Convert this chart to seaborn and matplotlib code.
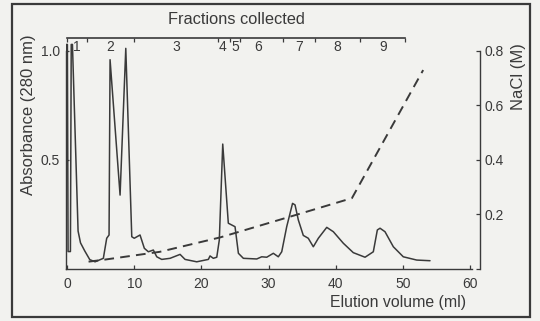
import matplotlib
matplotlib.use("Agg")
import matplotlib.pyplot as plt
import pandas as pd
import seaborn as sns
from matplotlib.patches import Rectangle
from matplotlib.transforms import blended_transform_factory

# Absorbance trace at 280 nm
elution_ml = [-0.2, -0.12, 0.05, 0.15, 0.5, 0.62, 0.8, 1.64, 2.0, 2.63, 3.38, 4.17,
              5.4, 5.9, 6.25, 6.4, 7.89, 8.74, 9.63, 10.0, 10.86, 11.5, 12.1, 12.84,
              13.35, 14.09, 15.33, 16.82, 17.56, 19.3, 21.03, 21.28, 21.77, 22.28,
              22.66, 23.17, 24.0, 24.5, 25.0, 25.5, 26.24, 28.23, 28.97, 29.72, 30.7,
              31.44, 31.95, 32.69, 33.56, 33.93, 34.42, 35.16, 35.9, 36.65, 37.4,
              38.65, 39.63, 41.12, 42.6, 44.35, 45.58, 46.18, 46.58, 47.32, 48.56,
              50.04, 52.04, 54.02]
absorbance = [0.02, 1.03, 1.03, 0.08, 0.08, 1.03, 1.03, 0.174, 0.12, 0.083, 0.043, 0.033,
              0.049, 0.141, 0.156, 0.96, 0.339, 1.012, 0.148, 0.141, 0.156, 0.095, 0.079,
              0.087, 0.056, 0.044, 0.049, 0.067, 0.044, 0.033, 0.044, 0.060, 0.049, 0.054,
              0.133, 0.573, 0.21, 0.202, 0.194, 0.072, 0.049, 0.046, 0.056, 0.054, 0.072,
              0.056, 0.079, 0.194, 0.301, 0.294, 0.225, 0.154, 0.141, 0.102, 0.141,
              0.191, 0.171, 0.118, 0.075, 0.054, 0.079, 0.179, 0.187, 0.171, 0.102,
              0.056, 0.041, 0.038]

# Salt gradient
nacl_ml = [3.2, 5.2, 13.8, 22.8, 33.6, 42.4, 53.0]
nacl_molar = [0.027, 0.033, 0.063, 0.116, 0.195, 0.26, 0.73]

# Collected fractions
fraction_bounds = [0, 3, 10, 22.4, 24.3, 25.7, 32.1, 36.9, 43.6, 50.3]
fraction_labels = ["1", "2", "3", "4", "5", "6", "7", "8", "9"]
fraction_label_pos = [1.5, 6.4, 16.3, 23.2, 25.0, 28.4, 34.5, 40.2, 47.0]

x_ticks = [0, 10, 20, 30, 40, 50, 60]
abs_ticks = [0.5, 1.0]
abs_tick_labels = ["0.5", "1.0"]
nacl_ticks = [0, 0.2, 0.4, 0.6, 0.8]
nacl_tick_labels = ["", "0.2", "0.4", "0.6", "0.8"]

ink = "#3a3a3a"
paper = "#f2f2ef"

sns.set_style("white", {"axes.facecolor": "none", "figure.facecolor": paper})
plt.rcParams["font.family"] = ["Liberation Sans", "DejaVu Sans"]
plt.rcParams["text.color"] = ink
plt.rcParams["axes.labelcolor"] = ink
plt.rcParams["xtick.color"] = ink
plt.rcParams["ytick.color"] = ink

fig = plt.figure(figsize=(5.4, 3.21), dpi=100)
fig.patch.set_facecolor(paper)
ax = fig.add_axes([0.1217, 0.162, 0.7672, 0.7206])

trace = pd.DataFrame({"ml": elution_ml, "A280": absorbance})
sns.lineplot(data=trace, x="ml", y="A280", ax=ax, color=ink, linewidth=1.1,
             sort=False, estimator=None)

xmin, xmax = -0.2, 61.46
ax.set_xlim(xmin, xmax)
ax.set_ylim(0, 1.061)

ax2 = ax.twinx()
gradient = pd.DataFrame({"ml": nacl_ml, "NaCl": nacl_molar})
sns.lineplot(data=gradient, x="ml", y="NaCl", ax=ax2, color=ink, linewidth=1.4,
             sort=False, estimator=None)
ax2.lines[0].set_dashes((5, 3.2))
ax2.set_ylim(0, 1.061 * 0.8)
ax2.set_xlim(xmin, xmax)

# Fractions axis along the top
ax3 = ax.twiny()
ax3.set_xlim(xmin, xmax)
ax3.set_xticks(fraction_bounds)
ax3.tick_params(axis="x", direction="in", length=3, width=0.9, labeltop=False,
                top=True, bottom=False, color=ink)
for side in ["left", "right", "bottom"]:
    ax3.spines[side].set_visible(False)
ax3.spines["top"].set_bounds(fraction_bounds[0], fraction_bounds[-1])
ax3.spines["top"].set_color(ink)
ax3.spines["top"].set_linewidth(1.2)
ax3.set_yticks([])
trans = blended_transform_factory(ax3.transData, ax3.transAxes)
for pos, lab in zip(fraction_label_pos, fraction_labels):
    ax3.text(pos, 0.958, lab, transform=trans, ha="center", va="center",
             fontsize=10, color=ink)
ax3.text(0.411, 1.0765, "Fractions collected", transform=ax3.transAxes,
         ha="center", va="center", fontsize=11.8, color=ink)

# Main axes styling
ax.spines["top"].set_visible(False)
ax.spines["right"].set_visible(False)
ax.spines["left"].set_bounds(0, 1.0)
ax.spines["bottom"].set_bounds(xmin, 60.3)
for side in ["left", "bottom"]:
    ax.spines[side].set_color(ink)
    ax.spines[side].set_linewidth(1.0)
ax.set_xticks(x_ticks)
ax.set_xticklabels([str(t) for t in x_ticks])
ax.set_yticks(abs_ticks)
ax.set_yticklabels(abs_tick_labels)
ax.tick_params(axis="x", direction="in", length=3, width=0.9, pad=6, labelsize=10)
ax.tick_params(axis="y", direction="in", length=2, width=0.9, pad=4, labelsize=10)
ax.set_xlabel("Elution volume (ml)", fontsize=11.4, ha="right", va="center")
ax.xaxis.set_label_coords(0.966, -0.143)
ax.set_ylabel("Absorbance (280 nm)", fontsize=12, va="center")
ax.yaxis.set_label_coords(-0.091, 0.666)

for side in ["left", "top", "bottom"]:
    ax2.spines[side].set_visible(False)
ax2.spines["right"].set_bounds(0, 0.8)
ax2.spines["right"].set_color(ink)
ax2.spines["right"].set_linewidth(1.0)
ax2.set_yticks(nacl_ticks)
ax2.set_yticklabels(nacl_tick_labels)
ax2.tick_params(axis="y", direction="in", length=3, width=0.9, pad=3, labelsize=10)
ax2.set_ylabel("NaCl (M)", fontsize=12, rotation=90, va="center")
ax2.yaxis.set_label_coords(1.092, 0.83)

# Outer frame around the figure
fig.patches.append(Rectangle((12 / 540, 4 / 321), 518 / 540, 313 / 321,
                             transform=fig.transFigure, fill=False,
                             edgecolor=ink, linewidth=1.6))

fig.savefig("out.png", dpi=100, facecolor=paper)
